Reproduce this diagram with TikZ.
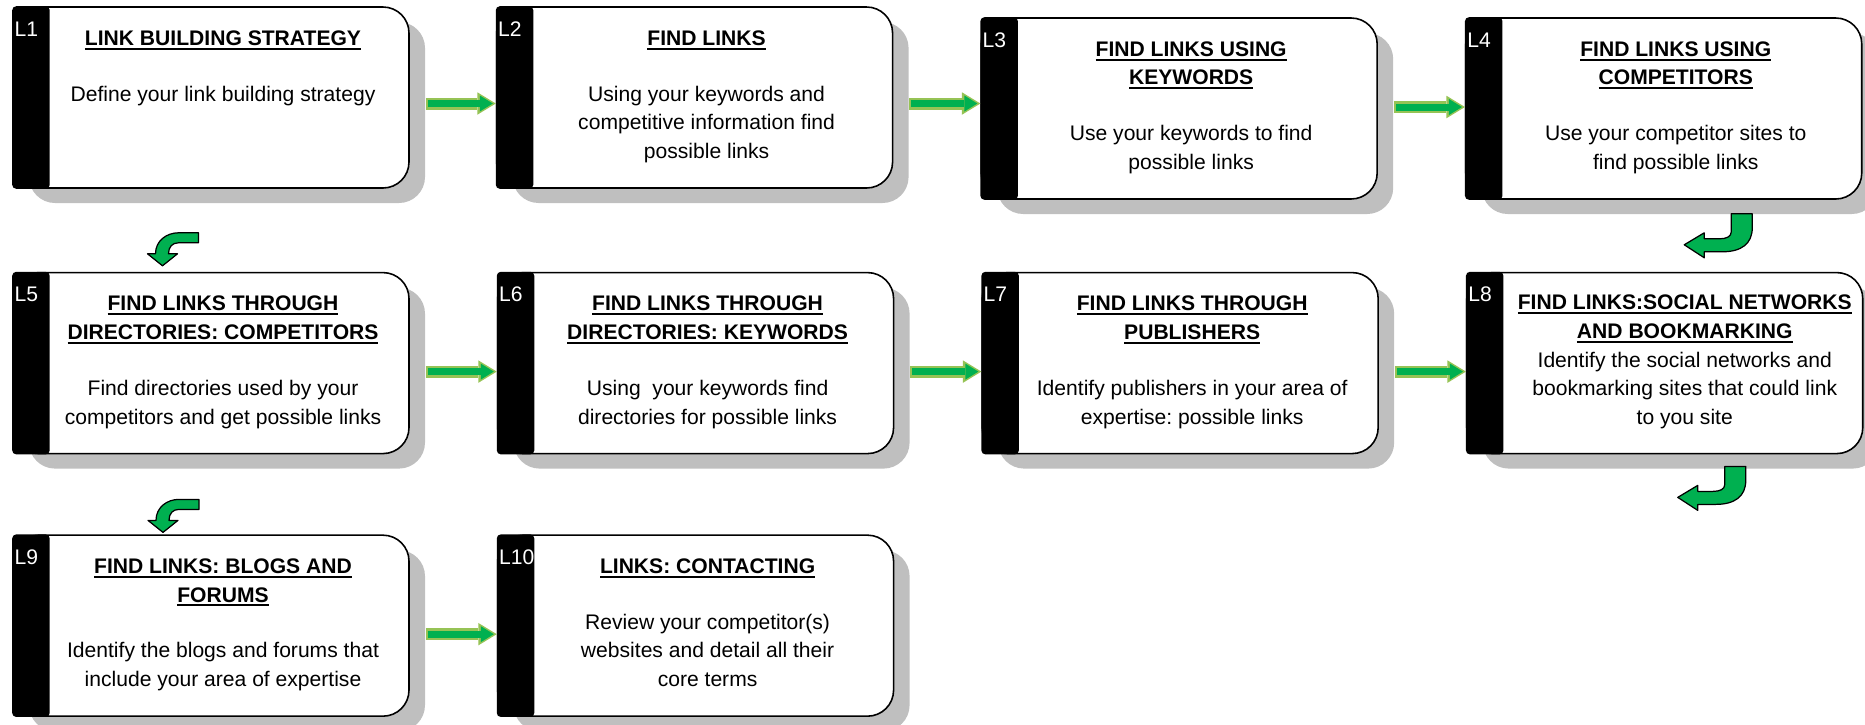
\documentclass[tikz,border=0pt]{standalone}
\usepackage{fontspec}
\setmainfont{Liberation Sans}
\usetikzlibrary{positioning,arrows.meta,shadows,calc}

\definecolor{stepgreen}{HTML}{00B050}
\definecolor{stepolive}{RGB}{150,195,85}
\definecolor{shadowgray}{HTML}{BFBFBF}

\newsavebox{\titlebox}
\newcommand{\stephead}[1]{\sbox{\titlebox}{\bfseries #1}\rlap{\rule[-2.4pt]{\wd\titlebox}{1.1pt}}\usebox{\titlebox}}

\frenchspacing
\begin{document}
\begin{tikzpicture}[
    card/.style={draw,line width=0.9pt,fill=white,rounded corners=0.52cm,minimum width=7.92cm,minimum height=3.62cm,
      drop shadow={shadow xshift=0.32cm,shadow yshift=-0.3cm,fill=shadowgray,opacity=1}},
    strip/.style={fill=black,rounded corners=0.08cm},
    tag/.style={text=white,inner sep=0pt,anchor=base west,font=\fontsize{12}{14}\selectfont},
    txt/.style={align=center,inner sep=0pt,anchor=north,font=\fontsize{12}{16.3}\selectfont},
    garrow/.style={line width=0.24cm,draw=stepolive,-{Triangle[length=0.37cm,width=0.45cm,line width=0pt]},
      postaction={draw=stepgreen,line width=0.14cm,shorten <=0.04cm,shorten >=0.06cm,
        -{Triangle[length=0.26cm,width=0.32cm,line width=0pt]}}},
    turnarrow/.style={fill=stepgreen,draw=black,line width=0.7pt,line join=round},
    uturn/.pic={\filldraw[turnarrow] (0,0) -- (0,-0.36) .. controls (0,-0.46) and (-0.1,-0.5) .. (-0.24,-0.5)
      -- (-0.54,-0.5) -- (-0.54,-0.38) -- (-0.94,-0.62) -- (-0.54,-0.88) -- (-0.54,-0.76) -- (-0.18,-0.76)
      .. controls (0.2,-0.76) and (0.42,-0.6) .. (0.42,-0.28) -- (0.42,0) -- cycle;},
    dturn/.pic={\filldraw[turnarrow] (0,0) -- (-0.4,0) .. controls (-0.64,0) and (-0.86,-0.16) .. (-0.86,-0.42)
      -- (-1.02,-0.42) -- (-0.72,-0.66) -- (-0.42,-0.42) -- (-0.6,-0.42)
      .. controls (-0.6,-0.28) and (-0.52,-0.2) .. (-0.4,-0.2) -- (0,-0.2) -- cycle;}
  ]
    \useasboundingbox (0,0) rectangle (37.3,-14.48);

    % row 1
    \node[card] (L1) at (4.22,-1.95) {};
    \node[card, right=1.72cm of L1] (L2) {};
    \node[card, right=1.74cm of L2, yshift=-0.22cm] (L3) {};
    \node[card, right=1.74cm of L3] (L4) {};

    % row 2
    \node[card, below=1.66cm of L1] (L5) {};
    \node[card, right=1.74cm of L5] (L6) {};
    \node[card, right=1.74cm of L6] (L7) {};
    \node[card, right=1.74cm of L7] (L8) {};

    % row 3
    \node[card, below=1.6cm of L5] (L9) {};
    \node[card, right=1.74cm of L9] (L10) {};

    % black strips and step tags
    \foreach \n in {L1,L2,L3,L4,L5,L6,L7,L8,L9,L10}{
      \fill[strip] (\n.north west) rectangle ([xshift=0.75cm]\n.south west);
      \node[tag] (\n-tag) at ([shift={(0.04,-0.6)}]\n.north west) {\n};
    }

    % texts
    \node[txt] (L1-text) at ([shift={(0.24,-0.48)}]L1.north)
      {\stephead{LINK BUILDING STRATEGY}\\[15.5pt]Define your link building strategy};
    \node[txt] (L2-text) at ([shift={(0.24,-0.48)}]L2.north)
      {\stephead{FIND LINKS}\\[15.5pt]Using your keywords and\\competitive information find\\possible links};
    \node[txt] (L3-text) at ([shift={(0.24,-0.48)}]L3.north)
      {\stephead{FIND LINKS USING}\\\stephead{KEYWORDS}\\[15.5pt]Use your keywords to find\\possible links};
    \node[txt] (L4-text) at ([shift={(0.24,-0.48)}]L4.north)
      {\stephead{FIND LINKS USING}\\\stephead{COMPETITORS}\\[15.5pt]Use your competitor sites to\\find possible links};
    \node[txt] (L5-text) at ([shift={(0.24,-0.48)}]L5.north)
      {\stephead{FIND LINKS THROUGH}\\\stephead{DIRECTORIES: COMPETITORS}\\[15.5pt]Find directories used by your\\competitors and get possible links};
    \node[txt] (L6-text) at ([shift={(0.24,-0.48)}]L6.north)
      {\stephead{FIND LINKS THROUGH}\\\stephead{DIRECTORIES: KEYWORDS}\\[15.5pt]Using\ \ your keywords find\\directories for possible links};
    \node[txt] (L7-text) at ([shift={(0.24,-0.48)}]L7.north)
      {\stephead{FIND LINKS THROUGH}\\\stephead{PUBLISHERS}\\[15.5pt]Identify publishers in your area of\\expertise: possible links};
    \node[txt] (L8-text) at ([shift={(0.4,-0.46)}]L8.north)
      {\stephead{FIND LINKS:SOCIAL NETWORKS}\\\stephead{AND BOOKMARKING}\\Identify the social networks and\\bookmarking sites that could link\\to you site};
    \node[txt] (L9-text) at ([shift={(0.24,-0.48)}]L9.north)
      {\stephead{FIND LINKS: BLOGS AND}\\\stephead{FORUMS}\\[15.5pt]Identify the blogs and forums that\\include your area of expertise};
    \node[txt] (L10-text) at ([shift={(0.24,-0.48)}]L10.north)
      {\stephead{LINKS: CONTACTING}\\[15.5pt]Review your competitor(s)\\websites and detail all their\\core terms};

    % straight arrows
    \draw[garrow] ([shift={(0.32,-0.12)}]L1.east) -- ([yshift=-0.12cm]L2.west);
    \draw[garrow] ([shift={(0.32,-0.12)}]L2.east) -- ($(L3.west |- L2.east)+(0,-0.12)$);
    \draw[garrow] ([shift={(0.32,0.03)}]L3.east) -- ([yshift=0.03cm]L4.west);
    \draw[garrow] ([shift={(0.32,-0.17)}]L5.east) -- ([yshift=-0.17cm]L6.west);
    \draw[garrow] ([shift={(0.32,-0.17)}]L6.east) -- ([yshift=-0.17cm]L7.west);
    \draw[garrow] ([shift={(0.32,-0.17)}]L7.east) -- ([yshift=-0.17cm]L8.west);
    \draw[garrow] ([shift={(0.32,-0.17)}]L9.east) -- ([yshift=-0.17cm]L10.west);

    % turn arrows between rows
    \pic at ([shift={(1.35,-0.28)}]L4.south) {uturn};
    \pic at ([shift={(1.2,-0.24)}]L8.south) {uturn};
    \pic at ([shift={(-0.25,0.78)}]L5.north) {dturn};
    \pic at ([shift={(-0.24,0.70)}]L9.north) {dturn};
  \end{tikzpicture}
\end{document}
